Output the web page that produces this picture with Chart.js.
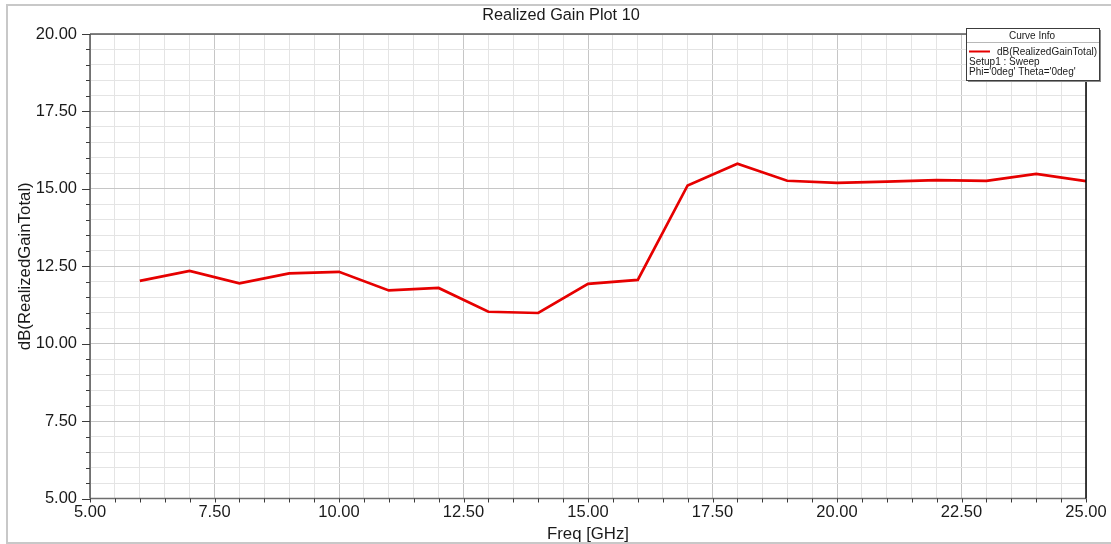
<!DOCTYPE html>
<html>
<head>
<meta charset="utf-8">
<script src="https://cdn.jsdelivr.net/npm/chart.js@4"></script>
<style>
  html, body { margin: 0; padding: 0; background: #ffffff; }
  #wrap { position: relative; width: 1111px; height: 544px; }
</style>
</head>
<body>
<div id="wrap"><canvas id="c" width="1111" height="544"></canvas></div>
<script>
// ---- data ----
const freqGHz = [6, 7, 8, 9, 10, 11, 12, 13, 14, 15, 16, 17, 18, 19, 20, 21, 22, 23, 24, 25];
const gainDb  = [12.03, 12.35, 11.95, 12.27, 12.32, 11.72, 11.80, 11.03, 10.99, 11.93, 12.06, 15.11, 15.81, 15.26, 15.19, 15.23, 15.28, 15.26, 15.48, 15.25];
const xTickLabels = ['5.00', '7.50', '10.00', '12.50', '15.00', '17.50', '20.00', '22.50', '25.00'];
const yTickLabels = ['5.00', '7.50', '10.00', '12.50', '15.00', '17.50', '20.00'];
const chartTitle = 'Realized Gain Plot 10';
const xAxisTitle = 'Freq [GHz]';
const yAxisTitle = 'dB(RealizedGainTotal)';
const legendTitle = 'Curve Info';
const legendLines = ['dB(RealizedGainTotal)', 'Setup1 : Sweep', "Phi='0deg' Theta='0deg'"];

const FONT = 'Arial, "Liberation Sans", sans-serif';
const isMajor = v => Math.abs(v / 2.5 - Math.round(v / 2.5)) < 1e-6;
const labelFor = (list, v) => {
  const s = v.toFixed(2);
  return list.includes(s) ? s : '';
};

const decorPlugin = {
  id: 'decor',
  beforeDraw(chart) {
    const ctx = chart.ctx;
    ctx.save();
    ctx.fillStyle = '#ffffff';
    ctx.fillRect(0, 0, chart.width, chart.height);
    ctx.restore();
  },
  afterDraw(chart) {
    const ctx = chart.ctx;
    const a = chart.chartArea;
    const xs = chart.scales.x, ys = chart.scales.y;
    ctx.save();
    // outer frame
    ctx.strokeStyle = '#c8c8c8';
    ctx.lineWidth = 2;
    ctx.strokeRect(7, 5, 1120, 538);

    // title
    ctx.fillStyle = '#1a1a1a';
    ctx.font = '16.3px ' + FONT;
    ctx.textAlign = 'center';
    ctx.textBaseline = 'middle';
    ctx.fillText(chartTitle, 561, 16);

    // plot borders
    ctx.lineWidth = 1.5;
    ctx.strokeStyle = '#5a5a5a';
    ctx.beginPath(); ctx.moveTo(a.left, a.top); ctx.lineTo(a.right, a.top); ctx.stroke();
    ctx.strokeStyle = '#555555';
    ctx.beginPath(); ctx.moveTo(a.left, a.top); ctx.lineTo(a.left, a.bottom); ctx.stroke();
    ctx.strokeStyle = '#6e6e6e';
    ctx.beginPath(); ctx.moveTo(a.left, a.bottom); ctx.lineTo(a.right, a.bottom); ctx.stroke();
    ctx.strokeStyle = '#000000';
    ctx.beginPath(); ctx.moveTo(a.right, a.top); ctx.lineTo(a.right, a.bottom); ctx.stroke();

    // tick marks
    ctx.strokeStyle = '#3a3a3a';
    ctx.lineWidth = 1;
    xs.ticks.forEach(t => {
      const px = Math.round(xs.getPixelForValue(t.value)) + 0.5;
      ctx.beginPath(); ctx.moveTo(px, a.bottom); ctx.lineTo(px, a.bottom + 4); ctx.stroke();
    });
    ys.ticks.forEach(t => {
      const py = Math.round(ys.getPixelForValue(t.value)) + 0.5;
      const len = isMajor(t.value) ? 8 : 4;
      ctx.beginPath(); ctx.moveTo(a.left - len, py); ctx.lineTo(a.left, py); ctx.stroke();
    });

    // legend box ("Curve Info")
    const bx = 966, by = 28, bw = 133, bh = 52;
    ctx.fillStyle = '#8a8a8a';
    ctx.fillRect(bx + 2, by + 2, bw, bh);
    ctx.fillStyle = '#ffffff';
    ctx.fillRect(bx, by, bw, bh);
    ctx.strokeStyle = '#3c3c3c';
    ctx.lineWidth = 1;
    ctx.strokeRect(bx + 0.5, by + 0.5, bw, bh);
    ctx.strokeStyle = '#b8b8b8';
    ctx.beginPath(); ctx.moveTo(bx + 1, 42.5); ctx.lineTo(bx + bw, 42.5); ctx.stroke();

    ctx.fillStyle = '#1a1a1a';
    ctx.font = '10px ' + FONT;
    ctx.textBaseline = 'middle';
    ctx.textAlign = 'center';
    ctx.fillText(legendTitle, 1032, 36);
    ctx.strokeStyle = '#e60000';
    ctx.lineWidth = 2;
    ctx.beginPath(); ctx.moveTo(969, 51.5); ctx.lineTo(990, 51.5); ctx.stroke();
    ctx.textAlign = 'right';
    ctx.fillText(legendLines[0], 1097, 52);
    ctx.textAlign = 'left';
    ctx.fillText(legendLines[1], 969, 62.5);
    ctx.fillText(legendLines[2], 969, 72.5);
    ctx.restore();
  }
};

new Chart(document.getElementById('c'), {
  type: 'line',
  data: {
    datasets: [{
      label: yAxisTitle,
      data: freqGHz.map((f, i) => ({ x: f, y: gainDb[i] })),
      borderColor: '#e60000',
      borderWidth: 2.7,
      pointRadius: 0,
      tension: 0,
      fill: false
    }]
  },
  options: {
    responsive: false,
    animation: false,
    devicePixelRatio: 1,
    layout: { padding: { left: 0, right: 25, top: 34, bottom: 0 } },
    plugins: {
      legend: { display: false },
      title: { display: false },
      tooltip: { enabled: false }
    },
    scales: {
      x: {
        type: 'linear',
        min: 5, max: 25,
        afterFit: s => { s.height = 45.5; },
        border: { display: false },
        grid: {
          drawTicks: false,
          lineWidth: 1,
          color: c => isMajor(c.tick.value) ? '#c6c6c6' : '#e4e4e4'
        },
        ticks: {
          stepSize: 0.5,
          autoSkip: false,
          maxRotation: 0,
          padding: 4,
          color: '#1a1a1a',
          font: { family: FONT, size: 16.5 },
          callback: v => labelFor(xTickLabels, v)
        },
        title: {
          display: true,
          text: xAxisTitle,
          color: '#1a1a1a',
          font: { family: FONT, size: 16.8 },
          padding: { top: 0, bottom: 0 }
        }
      },
      y: {
        type: 'linear',
        min: 5, max: 20,
        afterFit: s => { s.width = 90; },
        border: { display: false },
        grid: {
          drawTicks: false,
          lineWidth: 1,
          color: c => isMajor(c.tick.value) ? '#c6c6c6' : '#e4e4e4'
        },
        ticks: {
          stepSize: 0.5,
          autoSkip: false,
          padding: 13,
          color: '#1a1a1a',
          font: { family: FONT, size: 16.5 },
          callback: v => labelFor(yTickLabels, v)
        },
        title: {
          display: true,
          text: yAxisTitle,
          color: '#1a1a1a',
          font: { family: FONT, size: 16.8 },
          padding: { top: 15, bottom: 0 }
        }
      }
    }
  },
  plugins: [decorPlugin]
});
</script>
</body>
</html>
